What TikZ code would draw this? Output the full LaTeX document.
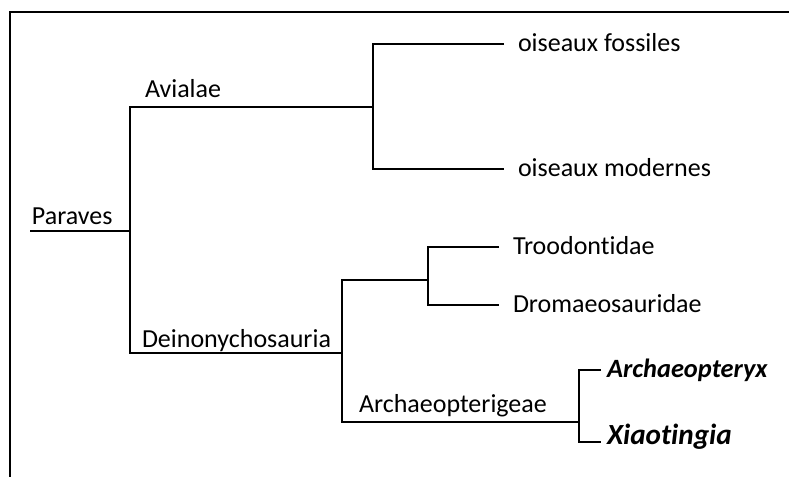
\documentclass[tikz,border=0pt]{standalone}
\usepackage{fontspec}
\setmainfont{Carlito}[Ligatures=NoCommon]
\usepackage{tikz}

\begin{document}
\begin{tikzpicture}[x=0.5pt, y=-0.5pt, line width=1pt,
  clade/.style={anchor=base west, inner sep=0pt, font=\fontsize{13}{15}\selectfont},
  leaf/.style={anchor=west, inner xsep=6.5pt, inner ysep=0pt,
    text height=9.5pt, text depth=2.5pt, font=\fontsize{13}{15}\selectfont},
  genus/.style={leaf, inner xsep=2.5pt, font=\fontsize{13.2}{15}\selectfont\bfseries\itshape}]
  \useasboundingbox (0,0) rectangle (789,477);

  % Frame
  \draw (789,12) -- (10,12) -- (10,477);

  % Branching points
  \coordinate (root) at (30,231);
  \coordinate (para) at (130,231);
  \coordinate (avi) at (373,107);
  \coordinate (dei) at (342,353);
  \coordinate (tro) at (428,280);
  \coordinate (arc) at (579,422);

  % Leaves
  \node[leaf] (fos) at (504,44) {oiseaux fossiles};
  \node[leaf] (mod) at (504,169) {oiseaux modernes};
  \node[leaf] (troo) at (499,247) {Troodontidae};
  \node[leaf] (drom) at (499,305) {Dromaeosauridae};
  \node[genus] (arx) at (601,370) {Archaeopteryx};
  \node[genus, text height=7pt, text depth=5pt,
    font=\fontsize{14.6}{17}\selectfont\bfseries\itshape] (xia) at (601,442) {Xiaotingia};

  % Clade labels
  \node[clade] (lpara) at (31,224) {Paraves};
  \node[clade] (lavi) at (144,97) {Avialae};
  \node[clade] (ldei) at (141,347) {Deinonychosauria};
  \node[clade] (larc) at (358,412) {Archaeopterigeae};

  % Tree
  \draw (root) -- (para);
  \draw (avi) -| (para) |- (dei);
  \draw (fos.west) -| (avi) |- (mod.west);
  \draw (tro) -| (dei) |- (arc);
  \draw (troo.west) -| (tro) |- (drom.west);
  \draw (arx.west) -| (arc) |- (xia.west);
\end{tikzpicture}
\end{document}
